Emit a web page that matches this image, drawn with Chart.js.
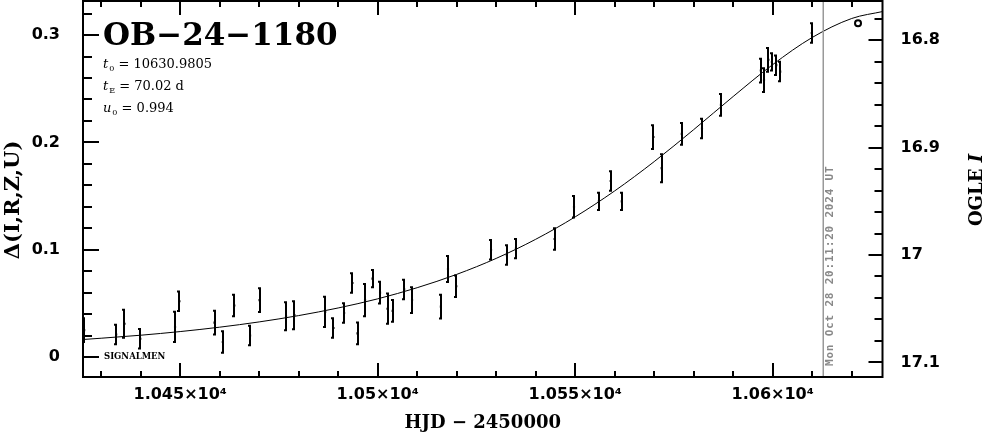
<!DOCTYPE html>
<html>
<head>
<meta charset="utf-8">
<script src="https://cdn.jsdelivr.net/npm/chart.js@4.4.0/dist/chart.umd.min.js"></script>
<style>
  body { margin: 0; background: #fff; }
  canvas { display: block; }
</style>
</head>
<body>
<canvas id="lc" width="986" height="434"></canvas>
<script>
// observations (HJD - 2450000, delta mag, error)
const obsT = [10425.7, 10433.8, 10435.9, 10439.9, 10448.7, 10449.8, 10458.7, 10460.8, 10463.7, 10467.7,
  10470.1, 10476.8, 10478.9, 10486.7, 10488.8, 10491.5, 10493.6, 10494.9, 10496.8, 10498.7,
  10500.6, 10502.5, 10503.8, 10506.7, 10508.7, 10516.0, 10517.8, 10519.9, 10528.7, 10532.7,
  10535.0, 10544.8, 10549.7, 10556.0, 10559.0, 10561.8, 10569.8, 10571.9, 10577.0, 10582.1,
  10586.9, 10597.0, 10597.8, 10598.9, 10599.8, 10600.9, 10601.9, 10609.9];
const obsDelta = [0.025, 0.021, 0.031, 0.017, 0.028, 0.052, 0.032, 0.014, 0.048, 0.020,
  0.053, 0.038, 0.039, 0.042, 0.027, 0.041, 0.069, 0.022, 0.053, 0.073,
  0.060, 0.045, 0.043, 0.063, 0.053, 0.047, 0.082, 0.066, 0.100, 0.095,
  0.101, 0.110, 0.140, 0.145, 0.164, 0.145, 0.205, 0.176, 0.208, 0.213,
  0.235, 0.267, 0.258, 0.277, 0.275, 0.272, 0.266, 0.302];
const obsErr = [0.012, 0.010, 0.014, 0.010, 0.015, 0.010, 0.012, 0.011, 0.011, 0.010,
  0.012, 0.014, 0.014, 0.015, 0.010, 0.010, 0.010, 0.011, 0.016, 0.009,
  0.011, 0.015, 0.011, 0.010, 0.013, 0.012, 0.013, 0.011, 0.010, 0.010,
  0.010, 0.011, 0.011, 0.009, 0.010, 0.009, 0.012, 0.014, 0.011, 0.010,
  0.011, 0.012, 0.012, 0.012, 0.009, 0.010, 0.010, 0.010];

// model curve
const modelT = [10425, 10430, 10440, 10450, 10460, 10470, 10480, 10490, 10500, 10510, 10520, 10530,
  10540, 10550, 10560, 10570, 10580, 10590, 10600, 10610, 10620, 10628];
const modelDelta = [0.0162, 0.0175, 0.0203, 0.0237, 0.0278, 0.0327, 0.0386, 0.0457, 0.0542, 0.0646, 0.0770, 0.0919,
  0.1097, 0.1306, 0.1548, 0.1821, 0.2119, 0.2428, 0.2725, 0.2978, 0.3155, 0.3221];

// open circle near the top right
const markT = [10621.6];
const markDelta = [0.311];

// time of the plot (vertical gray line)
const nowT = 10612.8;
const nowLabel = 'Mon Oct 28 20:11:20 2024 UT';

// tick labels
const xTicks = [10450, 10500, 10550, 10600];
const xTickLabels = ['1.045×10⁴', '1.05×10⁴', '1.055×10⁴', '1.06×10⁴'];
const deltaTicks = [0, 0.1, 0.2, 0.3];
const deltaTickLabels = ['0', '0.1', '0.2', '0.3'];
const magTicks = [16.8, 16.9, 17, 17.1];
const magTickLabels = ['16.8', '16.9', '17', '17.1'];

const tickFont = { family: 'DejaVu Sans', size: 16, weight: 'bold' };

const errorBars = {
  id: 'errorBars',
  afterDatasetsDraw(chart) {
    const { ctx, scales: { x, y } } = chart;
    ctx.save();
    ctx.strokeStyle = '#000';
    ctx.lineWidth = 2;
    obsT.forEach((t, i) => {
      const px = Math.round(x.getPixelForValue(t));
      const lo = y.getPixelForValue(obsDelta[i] - obsErr[i]);
      const hi = y.getPixelForValue(obsDelta[i] + obsErr[i]);
      ctx.beginPath();
      ctx.moveTo(px, lo); ctx.lineTo(px, hi);
      ctx.moveTo(px - 2, lo - 1); ctx.lineTo(px + 1, lo - 1);
      ctx.moveTo(px - 2, hi + 1); ctx.lineTo(px + 1, hi + 1);
      ctx.stroke();
    });
    ctx.restore();
  }
};

function subText(ctx, x, y, main, sub, rest) {
  ctx.font = 'italic 13px "DejaVu Serif"';
  ctx.fillText(main, x, y);
  x += ctx.measureText(main).width + 1;
  ctx.font = '8px "DejaVu Serif"';
  ctx.fillText(sub, x, y + 3);
  x += ctx.measureText(sub).width;
  ctx.font = '13px "DejaVu Serif"';
  ctx.fillText(rest, x, y);
}

const decorations = {
  id: 'decorations',
  afterDraw(chart) {
    const { ctx, chartArea: a, scales } = chart;
    ctx.save();

    // vertical line for the current date
    const nx = scales.x.getPixelForValue(nowT);
    ctx.strokeStyle = '#999';
    ctx.lineWidth = 1.5;
    ctx.beginPath(); ctx.moveTo(nx, a.top); ctx.lineTo(nx, a.bottom); ctx.stroke();
    ctx.save();
    ctx.translate(nx + 10, a.bottom - 11);
    ctx.rotate(-Math.PI / 2);
    ctx.fillStyle = '#888';
    ctx.font = 'bold 11px "DejaVu Sans Mono"';
    ctx.letterSpacing = '0.8px';
    ctx.textAlign = 'left';
    ctx.fillText(nowLabel, 0, 0);
    ctx.restore();

    // frame
    ctx.strokeStyle = '#000';
    ctx.lineWidth = 2;
    ctx.strokeRect(a.left, a.top, a.right - a.left, a.bottom - a.top);

    // inward ticks
    ctx.beginPath();
    for (let t = 10430; t <= 10620; t += 10) {
      const px = Math.round(scales.x.getPixelForValue(t));
      const len = t % 50 === 0 ? 14 : 6;
      ctx.moveTo(px, a.bottom); ctx.lineTo(px, a.bottom - len);
      ctx.moveTo(px, a.top); ctx.lineTo(px, a.top + len);
    }
    for (let k = 0; k <= 16; k++) {
      const py = Math.round(scales.y.getPixelForValue(k * 0.02));
      const len = k % 5 === 0 ? 16 : 9;
      ctx.moveTo(a.left, py); ctx.lineTo(a.left + len, py);
    }
    for (let k = -1; k <= 15; k++) {
      const py = Math.round(scales.y2.getPixelForValue(16.8 + k * 0.02));
      const len = (k + 5) % 5 === 0 ? 14 : 8;
      ctx.moveTo(a.right, py); ctx.lineTo(a.right - len, py);
    }
    ctx.stroke();

    // labels inside the plot
    ctx.fillStyle = '#000';
    ctx.textAlign = 'left';
    ctx.textBaseline = 'alphabetic';
    ctx.font = 'bold 31px "DejaVu Serif"';
    ctx.fillText('OB−24−1180', a.left + 20, 45);
    subText(ctx, a.left + 20, 68, 't', '0', ' = 10630.9805');
    subText(ctx, a.left + 20, 90, 't', 'E', ' = 70.02 d');
    subText(ctx, a.left + 20, 112, 'u', '0', ' = 0.994');
    ctx.font = 'bold 8.5px "DejaVu Serif"';
    ctx.fillText('SIGNALMEN', a.left + 21, 359);

    // axis titles (rotated, reading upward)
    ctx.save();
    ctx.translate(14, 200);
    ctx.rotate(-Math.PI / 2);
    ctx.textAlign = 'center';
    ctx.textBaseline = 'middle';
    ctx.font = 'bold 21px "DejaVu Serif"';
    ctx.fillText('Δ(I,R,Z,U)', 0, 0);
    ctx.restore();

    ctx.save();
    ctx.translate(977, 190);
    ctx.rotate(-Math.PI / 2);
    ctx.textBaseline = 'middle';
    ctx.font = 'bold 18px "DejaVu Serif"';
    const w1 = ctx.measureText('OGLE ').width;
    ctx.font = 'bold italic 18px "DejaVu Serif"';
    const w2 = ctx.measureText('I').width;
    let sx = -(w1 + w2) / 2;
    ctx.font = 'bold 18px "DejaVu Serif"';
    ctx.fillText('OGLE ', sx, 0);
    ctx.font = 'bold italic 18px "DejaVu Serif"';
    ctx.fillText('I', sx + w1, 0);
    ctx.restore();

    ctx.restore();
  }
};

const noPad = s => { s.paddingTop = 0; s.paddingBottom = 0; s.paddingLeft = 0; s.paddingRight = 0; };

new Chart(document.getElementById('lc'), {
  type: 'scatter',
  data: {
    datasets: [
      {
        type: 'line',
        data: modelT.map((t, i) => ({ x: t, y: modelDelta[i] })),
        borderColor: '#000',
        borderWidth: 1,
        pointRadius: 0,
        cubicInterpolationMode: 'monotone',
        fill: false
      },
      {
        data: obsT.map((t, i) => ({ x: t, y: obsDelta[i] })),
        pointStyle: 'rect',
        pointRadius: 1.5,
        backgroundColor: '#000',
        borderColor: '#000',
        borderWidth: 0
      },
      {
        data: markT.map((t, i) => ({ x: t, y: markDelta[i] })),
        pointStyle: 'circle',
        pointRadius: 3,
        backgroundColor: '#fff',
        borderColor: '#000',
        borderWidth: 2
      }
    ]
  },
  options: {
    responsive: false,
    devicePixelRatio: 1,
    animation: false,
    layout: { autoPadding: false, padding: { top: 1, left: 0, right: 0, bottom: 0 } },
    plugins: { legend: { display: false }, tooltip: { enabled: false } },
    scales: {
      x: {
        type: 'linear',
        position: 'bottom',
        min: 10425.4,
        max: 10627.8,
        grid: { display: false },
        border: { display: false },
        afterBuildTicks: s => { s.ticks = xTicks.map(v => ({ value: v })); },
        afterFit: s => { s.height = 57; noPad(s); },
        ticks: {
          font: tickFont, color: '#000', padding: 0, maxRotation: 0, autoSkip: false,
          callback: (v, i) => xTickLabels[i]
        },
        title: {
          display: true,
          text: 'HJD − 2450000',
          color: '#000',
          font: { family: 'DejaVu Serif', size: 18, weight: 'bold' },
          padding: 0
        }
      },
      y: {
        position: 'left',
        min: -0.01864,
        max: 0.3318,
        grid: { display: false },
        border: { display: false },
        afterBuildTicks: s => { s.ticks = deltaTicks.map(v => ({ value: v })); },
        afterFit: s => { s.width = 83; noPad(s); },
        ticks: { font: tickFont, color: '#000', padding: 15, callback: (v, i) => deltaTickLabels[i] }
      },
      y2: {
        position: 'right',
        reverse: true,
        min: 16.7637,
        max: 17.1135,
        grid: { display: false },
        border: { display: false },
        afterBuildTicks: s => { s.ticks = magTicks.map(v => ({ value: v })); },
        afterFit: s => { s.width = 103.5; noPad(s); },
        ticks: { font: tickFont, color: '#000', padding: 10, callback: (v, i) => magTickLabels[i] }
      }
    }
  },
  plugins: [errorBars, decorations]
});
</script>
</body>
</html>
